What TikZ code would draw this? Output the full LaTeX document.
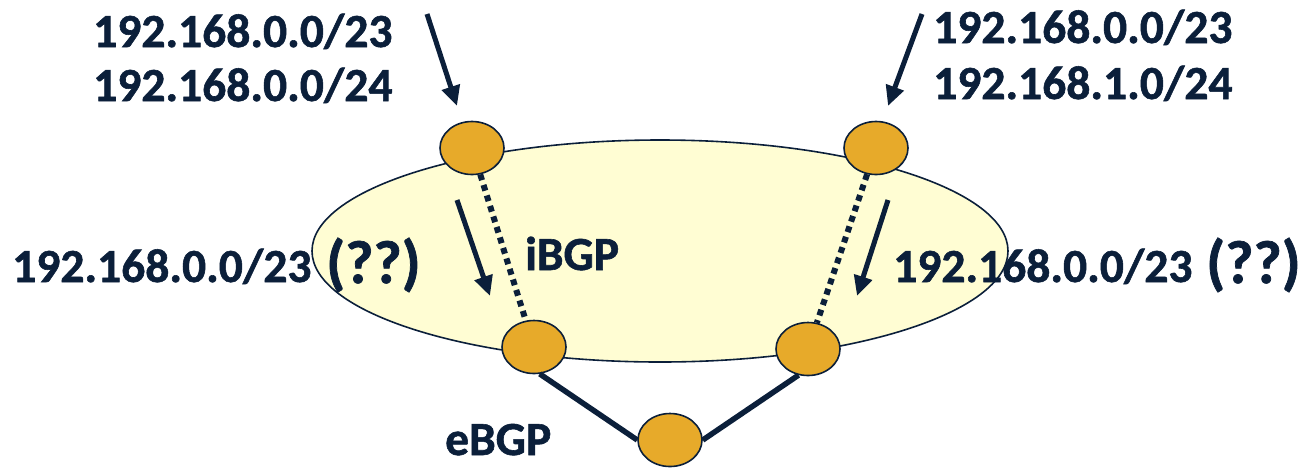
\documentclass[tikz,border=0pt]{standalone}
\usepackage{fontspec}
\setmainfont{Carlito}[BoldFeatures={FakeBold=1.2}]
\usetikzlibrary{shapes.geometric,arrows.meta}
\definecolor{navy}{HTML}{0B1F3A}
\definecolor{gold}{HTML}{E7AA2A}
\definecolor{pale}{HTML}{FFFDD3}
\tikzset{
  router/.style={ellipse,draw=navy,line width=1.6pt,fill=gold,minimum width=64pt,minimum height=53pt,inner sep=0pt},
  lbl/.style={anchor=base west,inner sep=0pt,text=navy,font=\fontsize{47.5}{52}\selectfont\bfseries},
  qq/.style={anchor=base west,inner sep=0pt,text=navy,font=\fontsize{61}{66}\selectfont\bfseries},
  feed/.style={draw=navy,line width=5pt,-{Triangle[length=20pt,width=18pt]}},
  ibgp/.style={draw=navy,line width=6pt,dash pattern=on 6pt off 5pt},
  ebgp/.style={draw=navy,line width=5.5pt},
}
\begin{document}
\begin{tikzpicture}[x=1pt,y=-1pt]
\useasboundingbox (0,0) rectangle (1305,467);
\node[ellipse,draw=navy,line width=1.6pt,fill=pale,minimum width=696pt,minimum height=222pt,inner sep=0pt] (as) at (660,251) {};
\node[router] (tl) at (472,148) {};
\node[router] (tr) at (876,148) {};
\node[router] (bl) at (534,347) {};
\node[router] (br) at (808,349) {};
\node[router] (ex) at (670,440) {};
\draw[ibgp] (tl) -- (bl);
\draw[ibgp] (tr) -- (br);
\draw[ebgp] (bl.-78) -- (ex.west);
\draw[ebgp] (ex.east) -- (br.-110);
\coordinate (a1s) at (427,14); \coordinate (a1e) at (457,106);
\coordinate (a2s) at (922,14); \coordinate (a2e) at (888,106);
\coordinate (a3s) at (457,200); \coordinate (a3e) at (490,296);
\coordinate (a4s) at (888,200); \coordinate (a4e) at (857,296);
\draw[feed] (a1s) -- (a1e);
\draw[feed] (a2s) -- (a2e);
\draw[feed] (a3s) -- (a3e);
\draw[feed] (a4s) -- (a4e);
\node[lbl] (t1) at (93,47) {192.168.0.0/23};
\node[lbl] (t2) at (93,101) {192.168.0.0/24};
\node[lbl] (t3) at (933,43) {192.168.0.0/23};
\node[lbl] (t4) at (933,99) {192.168.1.0/24};
\node[lbl] (m1) at (12,282) {192.168.0.0/23};
\node[qq] (q1) at (326,283) {(??)};
\node[lbl] (ib) at (525,270) {iBGP};
\node[lbl] (m2) at (893,282) {192.168.0.0/23};
\node[qq] (q2) at (1206,283) {(??)};
\node[lbl] (eb) at (445,455) {eBGP};
\end{tikzpicture}
\end{document}
